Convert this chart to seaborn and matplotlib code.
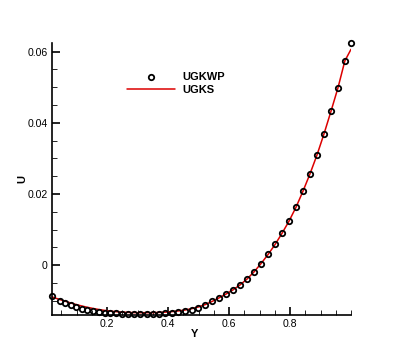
import matplotlib
matplotlib.use("Agg")
import matplotlib.pyplot as plt
import seaborn as sns
from matplotlib.ticker import MultipleLocator

# Data
y_pos = [0.0191, 0.0444, 0.0628, 0.0806, 0.0990, 0.1168, 0.1352, 0.1540, 0.1728,
         0.1915, 0.2106, 0.2297, 0.2491, 0.2688, 0.2886, 0.3087, 0.3291, 0.3495,
         0.3702, 0.3912, 0.4123, 0.4337, 0.4554, 0.4771, 0.4992, 0.5215, 0.5446,
         0.5676, 0.5903, 0.6134, 0.6364, 0.6591, 0.6821, 0.7048, 0.7279, 0.7509,
         0.7736, 0.7966, 0.8197, 0.8424, 0.8654, 0.8885, 0.9112, 0.9342, 0.9572,
         0.9799, 1.0000]

u_ugkwp = [-0.00854, -0.00994, -0.01065, -0.01124, -0.01177, -0.01225, -0.01264,
           -0.01295, -0.01317, -0.01329, -0.01340, -0.01348, -0.01357, -0.01362,
           -0.01365, -0.01368, -0.01368, -0.01365, -0.01360, -0.01351, -0.01340,
           -0.01320, -0.01289, -0.01250, -0.01194, -0.01115, -0.01017, -0.00913,
           -0.00806, -0.00688, -0.00548, -0.00385, -0.00183, 0.00048, 0.00303,
           0.00584, 0.00896, 0.01239, 0.01632, 0.02079, 0.02565, 0.03098,
           0.03683, 0.04320, 0.04980, 0.05739, 0.06236]

u_ugks = [-0.00890, -0.00961, -0.01011, -0.01059, -0.01104, -0.01143, -0.01180,
          -0.01213, -0.01242, -0.01267, -0.01287, -0.01303, -0.01315, -0.01323,
          -0.01329, -0.01331, -0.01331, -0.01329, -0.01323, -0.01315, -0.01301,
          -0.01281, -0.01256, -0.01219, -0.01171, -0.01104, -0.01014, -0.00913,
          -0.00806, -0.00688, -0.00548, -0.00385, -0.00183, 0.00048, 0.00303,
          0.00584, 0.00896, 0.01239, 0.01632, 0.02079, 0.02565, 0.03098,
          0.03683, 0.04320, 0.04980, 0.05739, 0.06062]

sns.set_style("ticks")
plt.rcParams['font.family'] = ['Liberation Sans', 'DejaVu Sans']
plt.rcParams['text.color'] = 'black'
plt.rcParams['axes.labelcolor'] = 'black'
plt.rcParams['xtick.color'] = 'black'
plt.rcParams['ytick.color'] = 'black'
plt.rcParams['axes.edgecolor'] = 'black'

fig = plt.figure(figsize=(3.99, 3.55), dpi=100)
ax = fig.add_axes([52 / 399, 40 / 355, 299 / 399, 272 / 355])

sns.lineplot(x=y_pos, y=u_ugks, color='#dc0000', linewidth=1.1, ax=ax,
             label='UGKS', sort=False, zorder=2)
sns.lineplot(x=y_pos, y=u_ugkwp, marker='o', linestyle='', markersize=3.9,
             markerfacecolor='none', markeredgecolor='black', markeredgewidth=1.3,
             color='black', ax=ax, label='UGKWP', sort=False, zorder=3,
             clip_on=False)

ax.set_xlim(0.019, 1.0)
ax.set_ylim(-0.01396, 0.0624)

ax.xaxis.set_minor_locator(MultipleLocator(0.05))
ax.yaxis.set_minor_locator(MultipleLocator(0.005))
ax.set_xticks([0.2, 0.4, 0.6, 0.8])
ax.set_yticks([0, 0.02, 0.04, 0.06])
ax.set_xticklabels(['0.2', '0.4', '0.6', '0.8'])
ax.set_yticklabels(['0', '0.02', '0.04', '0.06'])

ax.tick_params(which='major', direction='in', length=5.5, width=1.2,
               labelsize=7.6, pad=3)
ax.tick_params(which='minor', direction='in', length=3.6, width=0.6)
for s in ['top', 'right']:
    ax.spines[s].set_visible(False)
for s in ['left', 'bottom']:
    ax.spines[s].set_linewidth(1.2)

ax.set_xlabel('Y', fontsize=8, fontweight='bold')
ax.set_ylabel('U', fontsize=8, fontweight='bold')
ax.xaxis.set_label_coords(143 / 299, -14 / 272)
ax.yaxis.set_label_coords(-25 / 299, 136 / 272)

h, l = ax.get_legend_handles_labels()
order = [l.index('UGKWP'), l.index('UGKS')]
ax.legend([h[i] for i in order], [l[i] for i in order],
          loc='upper left', bbox_to_anchor=(127 / 399, (355 - 72.5) / 355),
          bbox_transform=fig.transFigure, frameon=False, borderpad=0,
          borderaxespad=0, handlelength=4.3, handletextpad=0.7,
          labelspacing=0.2, prop={'weight': 'bold', 'size': 8})

plt.savefig("out.png", dpi=100)
